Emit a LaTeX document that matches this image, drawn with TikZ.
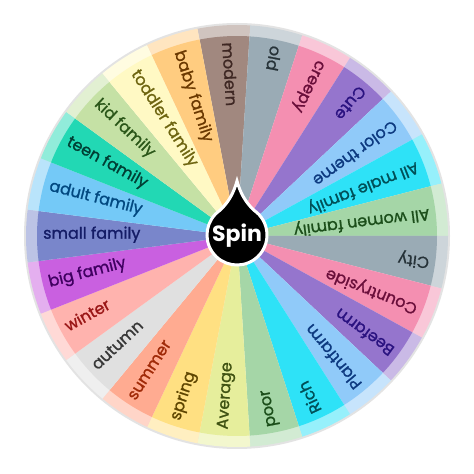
\documentclass[tikz,border=0pt]{standalone}
\usepackage{fontspec}
\setmainfont{Poppins}
\newfontfamily\lblfont[FakeBold=1.2]{Poppins}
\definecolor{f0}{HTML}{A1887F}\definecolor{t0}{HTML}{3E2723}
\definecolor{f1}{HTML}{9AABB5}\definecolor{t1}{HTML}{263238}
\definecolor{f2}{HTML}{F48FB1}\definecolor{t2}{HTML}{6A0E3A}
\definecolor{f3}{HTML}{9575CD}\definecolor{t3}{HTML}{2A1280}
\definecolor{f4}{HTML}{90CAF9}\definecolor{t4}{HTML}{0D3A80}
\definecolor{f5}{HTML}{2EE2F7}\definecolor{t5}{HTML}{005058}
\definecolor{f6}{HTML}{A5D6A7}\definecolor{t6}{HTML}{1B4E1A}
\definecolor{f7}{HTML}{E6EE9C}\definecolor{t7}{HTML}{3F5212}
\definecolor{f8}{HTML}{FFE082}\definecolor{t8}{HTML}{5E4500}
\definecolor{f9}{HTML}{FFAB91}\definecolor{t9}{HTML}{A02A08}
\definecolor{f10}{HTML}{E0E0E0}\definecolor{t10}{HTML}{383838}
\definecolor{f11}{HTML}{FFB3AE}\definecolor{t11}{HTML}{9A1616}
\definecolor{f12}{HTML}{C960E0}\definecolor{t12}{HTML}{3F0060}
\definecolor{f13}{HTML}{7986CB}\definecolor{t13}{HTML}{141C66}
\definecolor{f14}{HTML}{74C9F7}\definecolor{t14}{HTML}{014880}
\definecolor{f15}{HTML}{22D8B4}\definecolor{t15}{HTML}{003F34}
\definecolor{f16}{HTML}{C5E1A5}\definecolor{t16}{HTML}{2A5618}
\definecolor{f17}{HTML}{FFF9C4}\definecolor{t17}{HTML}{6E6510}
\definecolor{f18}{HTML}{FFCC80}\definecolor{t18}{HTML}{6A3800}
\tikzset{
  lbl/.style={anchor=mid west, inner sep=0pt, font=\lblfont\fontsize{16}{16}\selectfont},
  spintxt/.style={text=white, font=\bfseries\fontsize{22}{22}\selectfont, inner sep=0pt}
}
\begin{document}
\begin{tikzpicture}[x=1pt,y=1pt]
\useasboundingbox (0,0) rectangle (474,474);
\fill[white] (0,0) rectangle (474,474);
\coordinate (O) at (237,238);
\fill[gray!22] (O) circle (213);
\foreach \i/\fc/\tc/\lab in {
 0/f0/t0/modern, 1/f1/t1/old, 2/f2/t2/creepy, 3/f3/t3/Cute, 4/f4/t4/Color theme,
 5/f5/t5/All male family, 6/f6/t6/All women family, 7/f1/t1/City, 8/f2/t2/Countryside,
 9/f3/t3/Beefarm, 10/f4/t4/Plantfarm, 11/f5/t5/Rich, 12/f6/t6/poor, 13/f7/t7/Average,
 14/f8/t8/spring, 15/f9/t9/summer, 16/f10/t10/autumn, 17/f11/t11/winter,
 18/f12/t12/big family, 19/f13/t13/small family, 20/f14/t14/adult family,
 21/f15/t15/teen family, 22/f16/t16/kid family, 23/f17/t17/toddler family,
 24/f18/t18/baby family}{
  \pgfmathsetmacro\a{93.6-14.4*\i}
  \pgfmathsetmacro\s{\a-7.2}
  \pgfmathsetmacro\e{\a+7.2}
  \pgfmathsetmacro\r{\a+180}
  \fill[\fc!50!white] (O) -- ++(\s:211) arc[start angle=\s, end angle=\e, radius=211] -- cycle;
  \fill[\fc] (O) -- ++(\s:200) arc[start angle=\s, end angle=\e, radius=200] -- cycle;
  \node[lbl, rotate=\r, text=\tc] (l\i) at ([shift={(\a:194)}]O) {\lab};
}
\coordinate (C) at (237,239);
\path[fill=black, draw=white, line width=3pt] ([shift={(0,54)}]C)
  .. controls ([shift={(-3,43)}]C) and ([shift={(-8,33)}]C) .. ([shift={(125:30)}]C)
  arc[start angle=125, end angle=415, radius=30]
  .. controls ([shift={(8,33)}]C) and ([shift={(3,43)}]C) .. ([shift={(0,54)}]C) -- cycle;
\node[spintxt] (spin) at ([shift={(0,-1)}]C) {Spin};
\end{tikzpicture}
\end{document}
